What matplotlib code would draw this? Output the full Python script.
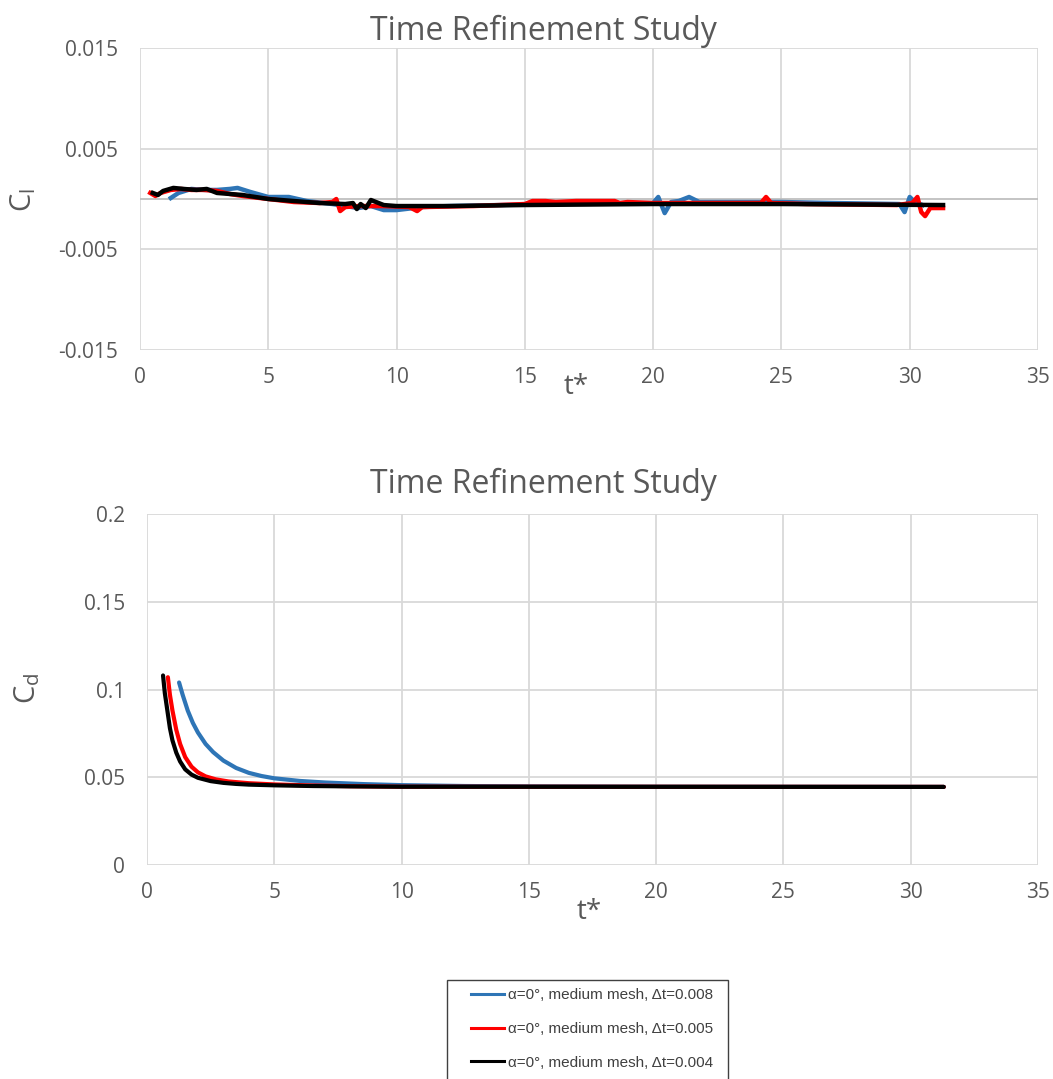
import matplotlib
matplotlib.use("Agg")
from matplotlib import pyplot as plt
from matplotlib.lines import Line2D
from matplotlib.patches import Rectangle

# lift coefficient history
t_cl_008 = [1.2, 1.5, 2.0, 2.5, 3.0, 3.5, 3.8, 4.3, 5.0, 5.8, 6.5, 7.5, 8.5, 9.0, 9.5, 10.0,
            11.0, 12.0, 14.0, 16.0, 19.0, 20.0, 20.2, 20.45, 20.7, 21.0, 21.4, 21.8, 25.0,
            27.0, 29.6, 29.8, 30.0, 30.2, 30.5]
cl_008 = [0.0001, 0.0006, 0.001, 0.0009, 0.0009, 0.001, 0.0011, 0.0007, 0.0002, 0.0002,
          -0.0002, -0.0005, -0.0009, -0.0007, -0.0011, -0.0011, -0.0008, -0.0007, -0.0006,
          -0.0005, -0.0004, -0.0004, 0.0002, -0.0014, -0.0003, -0.0002, 0.0002, -0.0003,
          -0.0003, -0.0004, -0.0005, -0.0013, 0.0002, -0.0003, -0.0006]

t_cl_005 = [0.4, 0.6, 0.8, 1.2, 1.6, 2.0, 2.5, 3.0, 3.5, 4.0, 5.0, 6.0, 7.0, 7.5, 7.65, 7.8,
            8.0, 8.5, 9.5, 10.5, 10.8, 11.0, 13.0, 15.0, 15.3, 15.8, 16.2, 17.0, 18.5, 18.7,
            19.0, 20.0, 22.0, 24.2, 24.4, 24.6, 26.0, 29.5, 30.1, 30.3, 30.45, 30.6, 30.8, 31.3]
cl_005 = [0.0006, 0.0003, 0.0006, 0.0009, 0.001, 0.0009, 0.0009, 0.0008, 0.0005, 0.0003,
          0.0, -0.0003, -0.0004, -0.0003, 0.0, -0.0012, -0.0008, -0.0007, -0.0007, -0.0008,
          -0.0012, -0.0008, -0.0007, -0.0005, -0.0002, -0.0002, -0.0003, -0.0002, -0.0002,
          -0.0004, -0.0003, -0.0004, -0.0004, -0.0004, 0.0002, -0.0004, -0.0005, -0.0006,
          -0.0004, 0.0002, -0.0013, -0.0017, -0.0009, -0.0009]

t_cl_004 = [0.5, 0.7, 0.9, 1.3, 1.7, 2.2, 2.6, 3.0, 3.5, 4.0, 5.0, 6.0, 7.0, 8.0, 8.3, 8.45,
            8.6, 8.8, 9.0, 9.2, 9.5, 10.0, 12.0, 15.0, 20.0, 25.0, 31.3]
cl_004 = [0.0006, 0.0004, 0.0008, 0.0011, 0.001, 0.0009, 0.001, 0.0006, 0.0005, 0.0004,
          0.0, -0.0002, -0.0004, -0.0005, -0.0004, -0.001, -0.0005, -0.0009, -0.0001,
          -0.0003, -0.0006, -0.0007, -0.0007, -0.0006, -0.0005, -0.0005, -0.0006]

# drag coefficient history
t_cd_008 = [1.26, 1.4, 1.6, 1.8, 2.0, 2.3, 2.6, 3.0, 3.5, 4.0, 4.5, 5.0, 6.0, 7.0, 8.5,
            10.0, 12.5, 15.0, 20.0, 31.3]
cd_008 = [0.104, 0.097, 0.088, 0.081, 0.0755, 0.069, 0.0643, 0.0595, 0.0553, 0.0525,
          0.0507, 0.0494, 0.0479, 0.047, 0.0461, 0.0455, 0.045, 0.0448, 0.0446, 0.0445]

t_cd_005 = [0.82, 0.9, 1.0, 1.15, 1.3, 1.5, 1.75, 2.0, 2.3, 2.7, 3.2, 4.0, 5.0, 6.5, 8.0,
            10.0, 31.3]
cd_005 = [0.107, 0.097, 0.088, 0.077, 0.069, 0.0615, 0.056, 0.0528, 0.0505, 0.0488,
          0.0476, 0.0466, 0.0459, 0.0453, 0.0449, 0.0446, 0.0445]

t_cd_004 = [0.63, 0.7, 0.8, 0.9, 1.0, 1.15, 1.3, 1.5, 1.75, 2.0, 2.5, 3.0, 3.5, 4.0, 5.0,
            6.5, 8.0, 10.0, 31.3]
cd_004 = [0.108, 0.098, 0.088, 0.078, 0.071, 0.064, 0.059, 0.0545, 0.0515, 0.0497,
          0.0478, 0.0468, 0.0462, 0.0458, 0.0454, 0.045, 0.0448, 0.0446, 0.0445]

labels = ["α=0°, medium mesh, Δt=0.008",
          "α=0°, medium mesh, Δt=0.005",
          "α=0°, medium mesh, Δt=0.004"]
colors = ["#2E75B6", "#FF0000", "#000000"]

xticks = [0, 5, 10, 15, 20, 25, 30, 35]
cl_ticks = [-0.015, -0.005, 0.005, 0.015]
cl_ticklabels = ["-0.015", "-0.005", "0.005", "0.015"]
cd_ticks = [0, 0.05, 0.1, 0.15, 0.2]
cd_ticklabels = ["0", "0.05", "0.1", "0.15", "0.2"]

plt.rcParams['font.family'] = ['Open Sans', 'DejaVu Sans']
grey = "#595959"
gridc = "#D9D9D9"

fig = plt.figure(figsize=(10.53, 10.79), dpi=100)


def style(ax, yticks, yticklabels):
    ax.set_xlim(0, 35)
    ax.set_xticks(xticks)
    ax.set_xticklabels([str(v) for v in xticks])
    ax.set_yticks(yticks)
    ax.set_yticklabels(yticklabels)
    ax.grid(True, color=gridc, linewidth=1.3)
    ax.set_axisbelow(True)
    for s in ax.spines.values():
        s.set_visible(False)
    ax.tick_params(length=0, labelsize=15, colors=grey)
    ax.tick_params(axis='x', pad=12)
    ax.tick_params(axis='y', pad=16)


ax1 = fig.add_axes([140 / 1053, 1 - 350 / 1079, 898 / 1053, 302 / 1079])
series1 = [(t_cl_008, cl_008), (t_cl_005, cl_005), (t_cl_004, cl_004)]
for (t, v), c in zip(series1, colors):
    ax1.plot(t, v, color=c, linewidth=3.2, solid_joinstyle='round')
ax1.axhline(0, color="#BFBFBF", linewidth=1.3, zorder=1)
ax1.set_ylim(-0.015, 0.015)
style(ax1, cl_ticks, cl_ticklabels)
fig.text(543 / 1053, 1 - 31 / 1079, "Time Refinement Study", fontsize=23, color=grey,
         ha="center", va="center")
fig.text(23 / 1053, 1 - 200 / 1079, r"$\mathregular{C_l}$", fontsize=21, color=grey,
         rotation=90, ha="center", va="center")
fig.text(576 / 1053, 1 - 387 / 1079, "t*", fontsize=20, color=grey, ha="center", va="center")

ax2 = fig.add_axes([147 / 1053, 1 - 865 / 1079, 891 / 1053, 351 / 1079])
series2 = [(t_cd_008, cd_008), (t_cd_005, cd_005), (t_cd_004, cd_004)]
for (t, v), c in zip(series2, colors):
    ax2.plot(t, v, color=c, linewidth=3, solid_capstyle='round', solid_joinstyle='round')
ax2.set_ylim(0, 0.2)
style(ax2, cd_ticks, cd_ticklabels)
fig.text(543 / 1053, 1 - 484 / 1079, "Time Refinement Study", fontsize=23, color=grey,
         ha="center", va="center")
fig.text(27 / 1053, 1 - 688 / 1079, r"$\mathregular{C_d}$", fontsize=21, color=grey,
         rotation=90, ha="center", va="center")
fig.text(589 / 1053, 1 - 912 / 1079, "t*", fontsize=20, color=grey, ha="center", va="center")

# legend box runs off the bottom edge
fig.patches.append(Rectangle((447 / 1053, -0.05), 281 / 1053, 0.05 + 1 - 980 / 1079,
                             transform=fig.transFigure, fill=False,
                             edgecolor="#404040", linewidth=1))
handles = [Line2D([], [], color=c, linewidth=2.2) for c in colors]
leg = fig.legend(handles, labels, loc="upper left",
                 bbox_to_anchor=(471 / 1053, 1 - 988 / 1079),
                 prop={'family': ['Liberation Sans', 'DejaVu Sans'], 'size': 11},
                 frameon=False, handlelength=2.15, labelspacing=1.3,
                 borderpad=0, handletextpad=0.3, borderaxespad=0)
for txt in leg.get_texts():
    txt.set_color("#404040")

fig.savefig("out.png", dpi=100)
